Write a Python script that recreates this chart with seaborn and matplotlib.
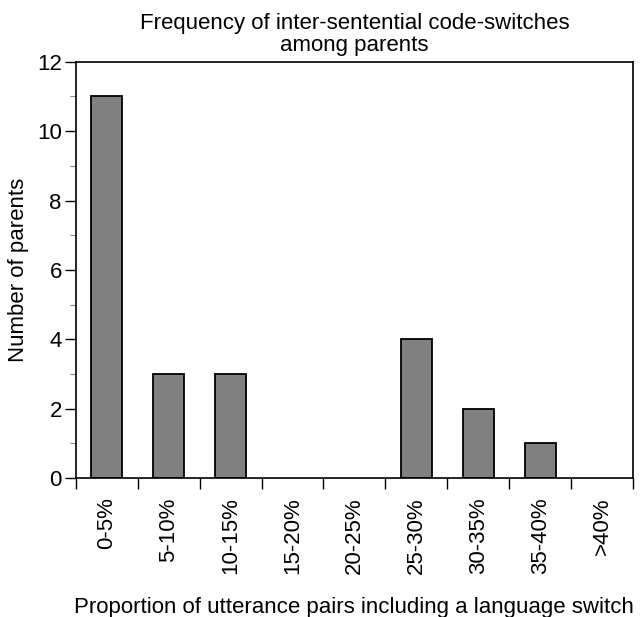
import numpy as np
import pandas as pd
import seaborn as sns
import matplotlib.pyplot as plt
from matplotlib.ticker import MultipleLocator, FixedLocator

categories = ['0-5%', '5-10%', '10-15%', '15-20%', '20-25%', '25-30%', '30-35%', '35-40%', '>40%']
counts = [11, 3, 3, 0, 0, 4, 2, 1, 0]

df = pd.DataFrame({'bin': categories, 'n': counts})

sns.set_style('white')
plt.rcParams['font.family'] = ['Liberation Sans', 'DejaVu Sans']
plt.rcParams['text.color'] = 'black'
plt.rcParams['axes.labelcolor'] = 'black'
plt.rcParams['xtick.color'] = 'black'
plt.rcParams['ytick.color'] = 'black'

fig = plt.figure(figsize=(6.42, 6.17), dpi=100)
ax = fig.add_axes([0.118, 0.225, 0.868, 0.675])

sns.barplot(data=df, x='bin', y='n', color='#808080', saturation=1,
            width=0.5, edgecolor='black', linewidth=1.3, ax=ax)

# empty bins: no visible outline
for p in ax.patches:
    if p.get_height() == 0:
        p.set_linewidth(0)

ax.set_ylim(0, 12)
ax.set_xlim(-0.5, len(categories) - 0.5)
ax.yaxis.set_major_locator(MultipleLocator(2))
ax.yaxis.set_minor_locator(MultipleLocator(1))
ax.xaxis.set_minor_locator(FixedLocator(np.arange(-0.5, len(categories), 1)))

for s in ax.spines.values():
    s.set_color('black')
    s.set_linewidth(1.2)

ax.tick_params(axis='y', which='major', direction='out', length=8, width=1, left=True, labelsize=16, pad=2)
ax.tick_params(axis='y', which='minor', direction='out', length=4, width=0.8, left=True, color='#888888')
ax.tick_params(axis='x', which='major', length=0, labelsize=16, pad=14, labelrotation=90)
ax.tick_params(axis='x', which='minor', direction='out', length=8, width=1, bottom=True)

ax.set_ylabel('Number of parents', fontsize=16, labelpad=6)
ax.set_xlabel('Proportion of utterance pairs including a language switch', fontsize=16, labelpad=16)
ax.set_title('Frequency of inter-sentential code-switches\namong parents', fontsize=16, pad=8, linespacing=1.05)

fig.savefig('out.png', dpi=100)
